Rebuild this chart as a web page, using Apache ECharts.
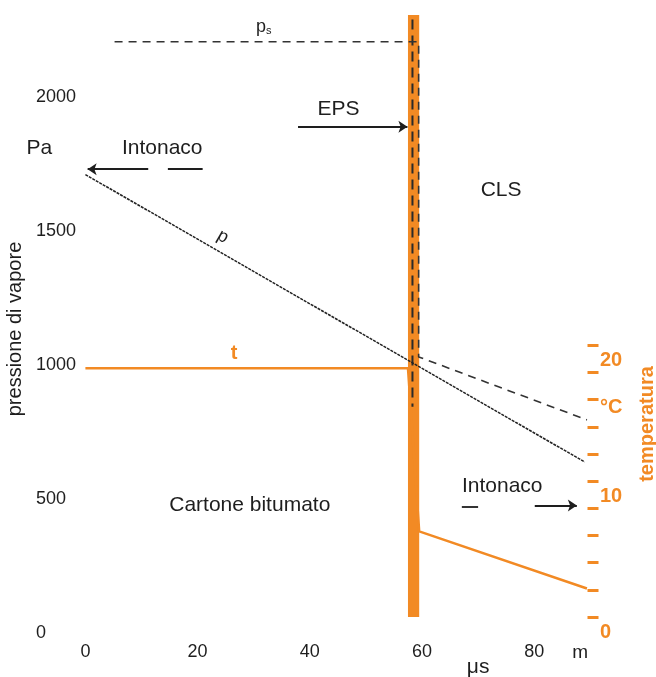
<!DOCTYPE html>
<html>
<head>
<meta charset="utf-8">
<script src="https://cdn.jsdelivr.net/npm/echarts@6/dist/echarts.min.js"></script>
<style>
  html, body { margin: 0; padding: 0; background: #fff; }
  #chart { width: 656px; height: 677px; }
</style>
</head>
<body>
<div id="chart"></div>
<script>
// Axis ranges and tick values
const xMax = 89.5;          // μs, m
const paMax = 2245;         // Pa
const tempMax = 44.3;       // °C
const xTickValues = [0, 20, 40, 60, 80];
const paTickValues = [0, 500, 1000, 1500, 2000];
const tempTickValues = [0, 2, 4, 6, 8, 10, 12, 14, 16, 18, 20];
const tempLabelValues = [0, 10, 16.5, 20];
const tempUnitAt = 16.5;

// Layer boundaries (μs, m)
const epsLayer = [57.5, 59.5];

// Temperature profile t [μs, °C]
const temperature = [[0, 18.3], [57.5, 18.3], [59.5, 6.3], [89.4, 2.1]];
// Vapour pressure p [μs, Pa]
const vapourPressure = [[0, 1650], [89, 578]];
// Saturation pressure ps [μs, Pa]
const saturationPressure = [[5.2, 2145], [59.4, 2145], [59.4, 970], [89.4, 735]];
// Trace inside the EPS layer [μs, Pa]
const epsTrace = [[58.3, 2228], [58.3, 784]];

// Pointer arrows [from, to] in [μs, Pa]
const arrowSegments = [
  [[11.2, 1670], [0.4, 1670]],
  [[37.9, 1828], [57.4, 1828]],
  [[80.1, 416], [87.6, 416]]
];
const plainSegments = [
  [[14.7, 1670], [20.9, 1670]],
  [[67.1, 412], [70.0, 412]]
];

// Text notes: label, μs, Pa
const noteText = ['Intonaco', 'EPS', 'CLS', 'Cartone bitumato', 'Intonaco', 'p', 'ps', 'Pa', 'μs', 'm'];
const noteX    = [13.7, 45.1, 74.1, 29.3, 74.3, 24.5, 31.8, -8.2, 70, 88.2];
const notePa   = [1750, 1892, 1593, 418, 487, 1418, 2201, 1750, -187, -134];
// Temperature label: μs, °C
const tLabel = { text: 't', x: 26.5, t: 19.4 };

const orange = '#f28a24';
const ink = '#1e1e1e';
const font = 'Liberation Sans, Arial, Helvetica, sans-serif';

const noteData = noteText.map((txt, i) => {
  const item = { name: txt, value: [noteX[i], notePa[i]] };
  if (txt === 'p') item.label = { rotate: -30, fontSize: 18 };
  if (txt === 'ps') item.label = { formatter: '{p|p}{s|s}' };
  if (txt === 'm') item.label = { fontSize: 19 };
  return item;
});

const chart = echarts.init(document.getElementById('chart'));
chart.setOption({
  backgroundColor: '#fff',
  animation: false,
  textStyle: { fontFamily: font },
  grid: {
    left: 85.4, right: 656 - 587.5, top: 15, bottom: 677 - 617,
    containLabel: false, outerBoundsMode: 'none'
  },
  xAxis: {
    type: 'value', min: 0, max: xMax,
    axisLine: { show: false }, axisTick: { show: false }, splitLine: { show: false },
    axisLabel: { customValues: xTickValues, color: ink, fontSize: 18, margin: 26, fontFamily: font }
  },
  yAxis: [
    {
      type: 'value', min: 0, max: paMax, position: 'left',
      axisLine: { show: false }, axisTick: { show: false }, splitLine: { show: false },
      axisLabel: {
        customValues: paTickValues, color: ink, fontSize: 18, align: 'left', margin: 49.5,
        verticalAlign: 'top', padding: [7, 0, 0, 0], fontFamily: font,
        formatter: v => String(v)
      },
      name: 'pressione di vapore', nameLocation: 'middle', nameGap: 58,
      nameTextStyle: { color: ink, fontSize: 20, padding: [0, 26, 0, 0], fontFamily: font }
    },
    {
      type: 'value', min: 0, max: tempMax, position: 'right',
      axisLine: { show: false }, splitLine: { show: false },
      axisTick: { show: true, customValues: tempTickValues, length: 11, lineStyle: { color: orange, width: 3 } },
      axisLabel: {
        customValues: tempLabelValues, color: orange, fontSize: 20, fontWeight: 'bold', margin: 12.5,
        verticalAlign: 'top', padding: [5, 0, 0, 0], fontFamily: font,
        formatter: v => (v === tempUnitAt ? '°C' : String(v))
      },
      name: 'temperatura', nameLocation: 'middle', nameGap: 50,
      nameTextStyle: { color: orange, fontSize: 20, fontWeight: 'bold', padding: [0, 216, 0, 0], fontFamily: font }
    }
  ],
  series: [
    {
      name: 'EPS', type: 'line', data: [], z: 1, silent: true,
      markArea: {
        silent: true,
        itemStyle: { color: orange, opacity: 1 },
        data: [[{ xAxis: epsLayer[0] }, { xAxis: epsLayer[1] }]]
      }
    },
    {
      name: 't', type: 'line', yAxisIndex: 1, data: temperature, symbol: 'none', z: 2,
      lineStyle: { color: orange, width: 2.5 }
    },
    {
      name: 'traccia', type: 'line', data: epsTrace, symbol: 'none', z: 3,
      lineStyle: { color: '#2a2a2a', width: 2, type: [10, 6] }
    },
    {
      name: 'ps', type: 'line', data: saturationPressure, symbol: 'none', z: 3,
      lineStyle: { color: '#333', width: 1.6, type: [8, 6] }
    },
    {
      name: 'p', type: 'line', data: vapourPressure, symbol: 'none', z: 4,
      lineStyle: { color: '#222', width: 1.5, type: [3, 1] }
    },
    {
      name: 'frecce', type: 'lines', coordinateSystem: 'cartesian2d', z: 4,
      symbol: ['none', 'arrow'], symbolSize: 9,
      lineStyle: { color: ink, width: 1.8, opacity: 1 },
      data: arrowSegments.map(c => ({ coords: c }))
    },
    {
      name: 'tratti', type: 'lines', coordinateSystem: 'cartesian2d', z: 4,
      symbol: 'none',
      lineStyle: { color: ink, width: 1.8, opacity: 1 },
      data: plainSegments.map(c => ({ coords: c }))
    },
    {
      name: 'note', type: 'scatter', symbolSize: 0, clip: false, z: 5, silent: true,
      itemStyle: { opacity: 1 },
      data: noteData,
      label: {
        show: true, position: 'inside', formatter: '{b}', color: ink, fontSize: 21, fontFamily: font,
        rich: {
          p: { fontSize: 18, color: ink, fontFamily: font },
          s: { fontSize: 11, color: ink, fontFamily: font, padding: [8, 0, 0, 0] }
        }
      }
    },
    {
      name: 'etichetta t', type: 'scatter', yAxisIndex: 1, symbolSize: 0, z: 5, silent: true,
      itemStyle: { opacity: 1 },
      data: [{ name: tLabel.text, value: [tLabel.x, tLabel.t] }],
      label: { show: true, position: 'inside', formatter: '{b}', color: orange, fontSize: 20, fontWeight: 'bold', fontFamily: font }
    }
  ]
});
</script>
</body>
</html>
